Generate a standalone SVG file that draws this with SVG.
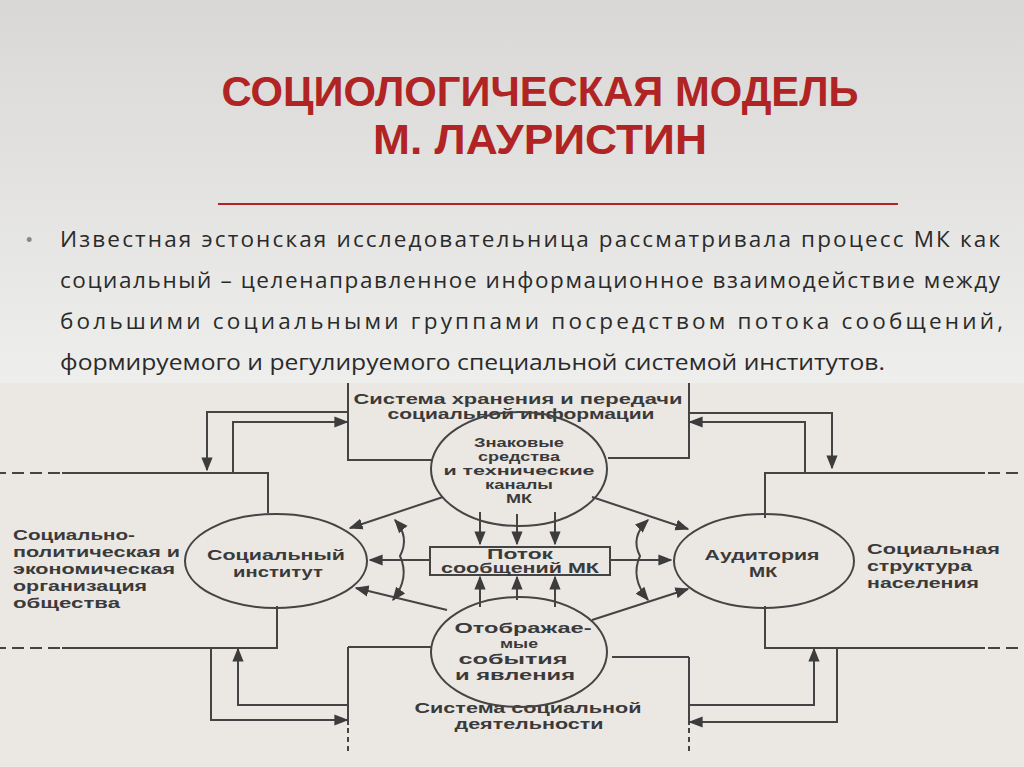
<svg xmlns="http://www.w3.org/2000/svg" width="1024" height="767" viewBox="0 0 1024 767">
<defs>
<linearGradient id="bg" x1="0" y1="0" x2="0" y2="1"><stop offset="0" stop-color="#d9d8d6"/><stop offset="0.5" stop-color="#eeeeed"/><stop offset="1" stop-color="#e4e3e1"/></linearGradient>
<marker id="a" viewBox="0 0 10 10" refX="9" refY="5" markerWidth="7" markerHeight="7" orient="auto-start-reverse"><path d="M0,1 L10,5 L0,9 z" fill="#3c3c3c"/></marker>
<style>
.t{font-family:"Liberation Sans",Arial,sans-serif;font-size:15.5px;font-weight:bold;fill:#3a3a3a}
.s{font-size:13px}
.c{text-anchor:middle}
.l{fill:none;stroke:#444;stroke-width:2}
.ar{marker-end:url(#a)}
.title{font-family:"Liberation Sans",Arial,sans-serif;font-weight:bold;font-size:42px;fill:#b02424}
.body{font-family:"Open Sans","Liberation Sans",sans-serif;font-size:22.5px;fill:#2a2a2a}
</style>
</defs>
<rect width="1024" height="767" fill="url(#bg)"/>
<rect y="383" width="1024" height="384" fill="#ebe7e3"/>
<text class="title c" x="540" y="106" textLength="637" lengthAdjust="spacingAndGlyphs">СОЦИОЛОГИЧЕСКАЯ МОДЕЛЬ</text>
<text class="title c" x="540" y="154" textLength="334" lengthAdjust="spacingAndGlyphs">М. ЛАУРИСТИН</text>
<line x1="218" y1="204" x2="898" y2="204" stroke="#b02424" stroke-width="2"/>
<text x="26" y="246" font-family="Liberation Sans,sans-serif" font-size="18" fill="#888">•</text>
<text class="body" x="60" y="247" textLength="940" lengthAdjust="spacing">Известная эстонская исследовательница рассматривала процесс МК как</text>
<text class="body" x="60" y="288" textLength="940" lengthAdjust="spacing">социальный – целенаправленное информационное взаимодействие между</text>
<text class="body" x="60" y="329" textLength="943" lengthAdjust="spacing">большими социальными группами посредством потока сообщений,</text>
<text class="body" x="60" y="370" textLength="825" lengthAdjust="spacingAndGlyphs">формируемого и регулируемого специальной системой институтов.</text>

<g id="connectors">
<path class="l" d="M348,383 V460 H432"/>
<path class="l" d="M689,383 V458 H608"/>
<path class="l ar" d="M348,412 H207 V470"/>
<path class="l ar" d="M233,473 V422 H347"/>
<path class="l ar" d="M689,413 H832 V468"/>
<path class="l ar" d="M805,473 V422 H690"/>
<path class="l" d="M348,647 H432"/>
<path class="l" d="M348,647 V725"/>
<path class="l" d="M348,728 V755" stroke-dasharray="5,4"/>
<path class="l" d="M689,657 H612"/>
<path class="l" d="M689,657 V725"/>
<path class="l" d="M689,728 V755" stroke-dasharray="5,4"/>
<path class="l ar" d="M211,648 V720 H347"/>
<path class="l ar" d="M348,705 H238 V649"/>
<path class="l ar" d="M837,648 V722 H690"/>
<path class="l ar" d="M689,705 H814 V649"/>
<path class="l ar" d="M443,497 L350,528"/>
<path class="l ar" d="M447,610 L356,588"/>
<path class="l ar" d="M592,497 L688,529"/>
<path class="l ar" d="M592,620 L688,589"/>
<path class="l ar" d="M430,560 L370,560"/>
<path class="l ar" d="M610,560 L671,560"/>
<path class="l ar" d="M480,512 V544"/>
<path class="l ar" d="M517,514 V544"/>
<path class="l ar" d="M555,512 V544"/>
<path class="l ar" d="M480,607 V577"/>
<path class="l ar" d="M517,600 V577"/>
<path class="l ar" d="M555,607 V577"/>
<path class="l" d="M395,520 Q410,537 400,556 Q410,578 393,600" marker-start="url(#a)" marker-end="url(#a)"/>
<path class="l" d="M648,520 Q630,537 640,556 Q630,578 648,600" marker-start="url(#a)" marker-end="url(#a)"/>
</g>

<g id="left-org">
<path class="l" d="M268,513 V473 H62"/>
<path class="l" d="M60,473 H0" stroke-dasharray="12,6"/>
<path class="l" d="M277,606 V648 H62"/>
<path class="l" d="M60,648 H0" stroke-dasharray="12,6"/>
<text class="t" x="13" y="540" textLength="122" lengthAdjust="spacingAndGlyphs">Социально-</text>
<text class="t" x="13" y="557" textLength="167" lengthAdjust="spacingAndGlyphs">политическая и</text>
<text class="t" x="13" y="574" textLength="162" lengthAdjust="spacingAndGlyphs">экономическая</text>
<text class="t" x="13" y="591" textLength="134" lengthAdjust="spacingAndGlyphs">организация</text>
<text class="t" x="13" y="608" textLength="107" lengthAdjust="spacingAndGlyphs">общества</text>
</g>
<g id="right-struct">
<path class="l" d="M765,518 V473 H985"/>
<path class="l" d="M988,473 H1024" stroke-dasharray="12,6"/>
<path class="l" d="M765,606 V648 H985"/>
<path class="l" d="M988,648 H1024" stroke-dasharray="12,6"/>
<text class="t" x="867" y="554" textLength="133" lengthAdjust="spacingAndGlyphs">Социальная</text>
<text class="t" x="867" y="571" textLength="105" lengthAdjust="spacingAndGlyphs">структура</text>
<text class="t" x="867" y="588" textLength="112" lengthAdjust="spacingAndGlyphs">населения</text>
</g>
<g id="storage">
<text class="t c" x="518" y="404" textLength="329" lengthAdjust="spacingAndGlyphs">Система хранения и передачи</text>
<text class="t c" x="521" y="419" textLength="267" lengthAdjust="spacingAndGlyphs">социальной информации</text>
</g>
<g id="activity">
<text class="t c" x="528" y="713" textLength="227" lengthAdjust="spacingAndGlyphs">Система социальной</text>
<text class="t c" x="529" y="729" textLength="149" lengthAdjust="spacingAndGlyphs">деятельности</text>
</g>
<g id="signs">
<ellipse class="l" cx="519" cy="469" rx="88" ry="57"/>
<text class="t s c" x="519" y="447" textLength="90" lengthAdjust="spacingAndGlyphs">Знаковые</text>
<text class="t s c" x="519" y="461" textLength="82" lengthAdjust="spacingAndGlyphs">средства</text>
<text class="t s c" x="519" y="475" textLength="151" lengthAdjust="spacingAndGlyphs">и технические</text>
<text class="t s c" x="519" y="489" textLength="68" lengthAdjust="spacingAndGlyphs">каналы</text>
<text class="t s c" x="519" y="503" textLength="26" lengthAdjust="spacingAndGlyphs">МК</text>
</g>
<g id="events">
<ellipse class="l" cx="519" cy="652" rx="88" ry="55"/>
<text class="t c" x="523" y="633" textLength="137" lengthAdjust="spacingAndGlyphs">Отображае-</text>
<text class="t s c" x="519" y="648" textLength="38" lengthAdjust="spacingAndGlyphs">мые</text>
<text class="t c" x="513" y="664" textLength="109" lengthAdjust="spacingAndGlyphs">события</text>
<text class="t c" x="515" y="680" textLength="120" lengthAdjust="spacingAndGlyphs">и явления</text>
</g>
<g id="institute">
<ellipse class="l" cx="276" cy="561" rx="91" ry="47"/>
<text class="t c" x="276" y="560" textLength="138" lengthAdjust="spacingAndGlyphs">Социальный</text>
<text class="t c" x="278" y="577" textLength="90" lengthAdjust="spacingAndGlyphs">институт</text>
</g>
<g id="audience">
<ellipse class="l" cx="764" cy="561" rx="90" ry="47"/>
<text class="t c" x="762" y="560" textLength="115" lengthAdjust="spacingAndGlyphs">Аудитория</text>
<text class="t c" x="763" y="577" textLength="28" lengthAdjust="spacingAndGlyphs">МК</text>
</g>
<g id="flow">
<rect class="l" x="430" y="547" width="180" height="28" fill="#ebe7e3"/>
<text class="t c" x="520" y="559" font-size="12" textLength="66" lengthAdjust="spacingAndGlyphs">Поток</text>
<text class="t c" x="520" y="573" font-size="12" textLength="158" lengthAdjust="spacingAndGlyphs">сообщений МК</text>
</g>
</svg>
